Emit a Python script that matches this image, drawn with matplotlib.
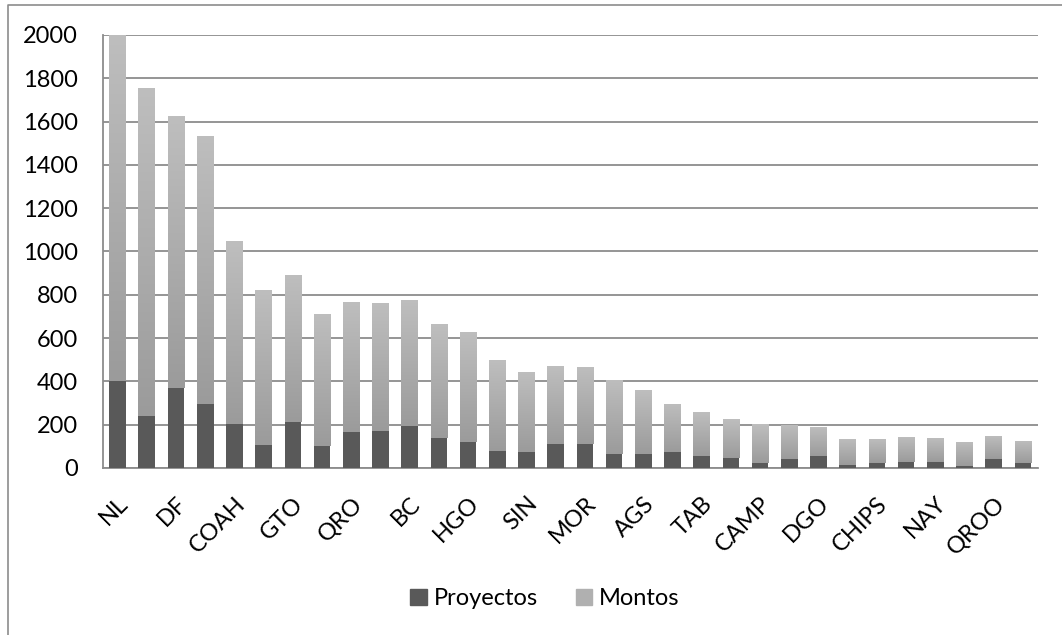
import matplotlib.pyplot as plt
import numpy as np
from matplotlib.lines import Line2D
from matplotlib.patches import Patch

# labels shown under every other bar
labels = ["NL", "DF", "COAH", "GTO", "QRO", "BC", "HGO", "SIN",
          "MOR", "AGS", "TAB", "CAMP", "DGO", "CHIPS", "NAY", "QROO"]

proyectos = [400, 240, 368, 294, 202, 106, 211, 100, 165, 169, 195, 140, 121, 80, 75, 112,
             112, 66, 66, 75, 57, 48, 23, 42, 56, 14, 23, 28, 28, 9, 42, 23]
montos = [1600, 1515, 1256, 1238, 845, 715, 679, 610, 600, 592, 582, 526, 508, 420, 369, 360,
          356, 342, 295, 222, 203, 180, 179, 158, 135, 121, 112, 116, 112, 112, 107, 103]

plt.rcParams['font.family'] = ['Lato', 'DejaVu Sans']

fig = plt.figure(figsize=(10.62, 6.35), dpi=100)
ax = fig.add_axes([0.097, 0.263, 0.88, 0.682])

x = np.arange(len(proyectos))
width = 0.57
dark = "#595959"

ax.bar(x, proyectos, width=width, color=dark, zorder=3, label="Proyectos")
bars = ax.bar(x, montos, width=width, bottom=proyectos, color="none", zorder=3)

# vertical gradient on the stacked part
grad = np.linspace(0, 1, 256).reshape(-1, 1)
cmap = plt.matplotlib.colors.LinearSegmentedColormap.from_list("g", ["#9b9b9b", "#bebebe"])
for rect in bars:
    x0, y0 = rect.get_x(), rect.get_y()
    im = ax.imshow(grad, extent=[x0, x0 + rect.get_width(), y0, y0 + rect.get_height()],
                   origin="lower", aspect="auto", cmap=cmap, zorder=3)
    im.set_clip_path(rect)

ax.set_xlim(-0.5, len(proyectos) - 0.5)
ax.set_ylim(0, 2000)
ax.set_yticks(np.arange(0, 2001, 200))
ax.set_xticks(x[::2])
ax.set_xticklabels(labels, rotation=45, ha="right", rotation_mode="anchor")
ax.tick_params(axis="both", length=0, labelsize=17, colors="black")
ax.tick_params(axis="y", pad=18)
ax.tick_params(axis="x", pad=18)

ax.grid(axis="y", color="#8c8c8c", linewidth=1.3, zorder=0)
ax.set_axisbelow(True)
for side in ["top", "right"]:
    ax.spines[side].set_visible(False)
for side in ["left", "bottom"]:
    ax.spines[side].set_color("#8c8c8c")
    ax.spines[side].set_linewidth(1.3)

handles = [Patch(color=dark, label="Proyectos"), Patch(color="#b0b0b0", label="Montos")]
fig.legend(handles=handles, loc="center", bbox_to_anchor=(0.513, 0.057), ncol=2,
           frameon=False, fontsize=17, handlelength=0.7, handleheight=0.7,
           handletextpad=0.3, columnspacing=1.6)

# chart border
fig.add_artist(Line2D([8 / 1062, 8 / 1062, 1.0], [0.0, 1 - 5 / 635, 1 - 5 / 635],
                      transform=fig.transFigure, color="#8c8c8c", linewidth=1.2))

fig.savefig("out.png", dpi=100)
